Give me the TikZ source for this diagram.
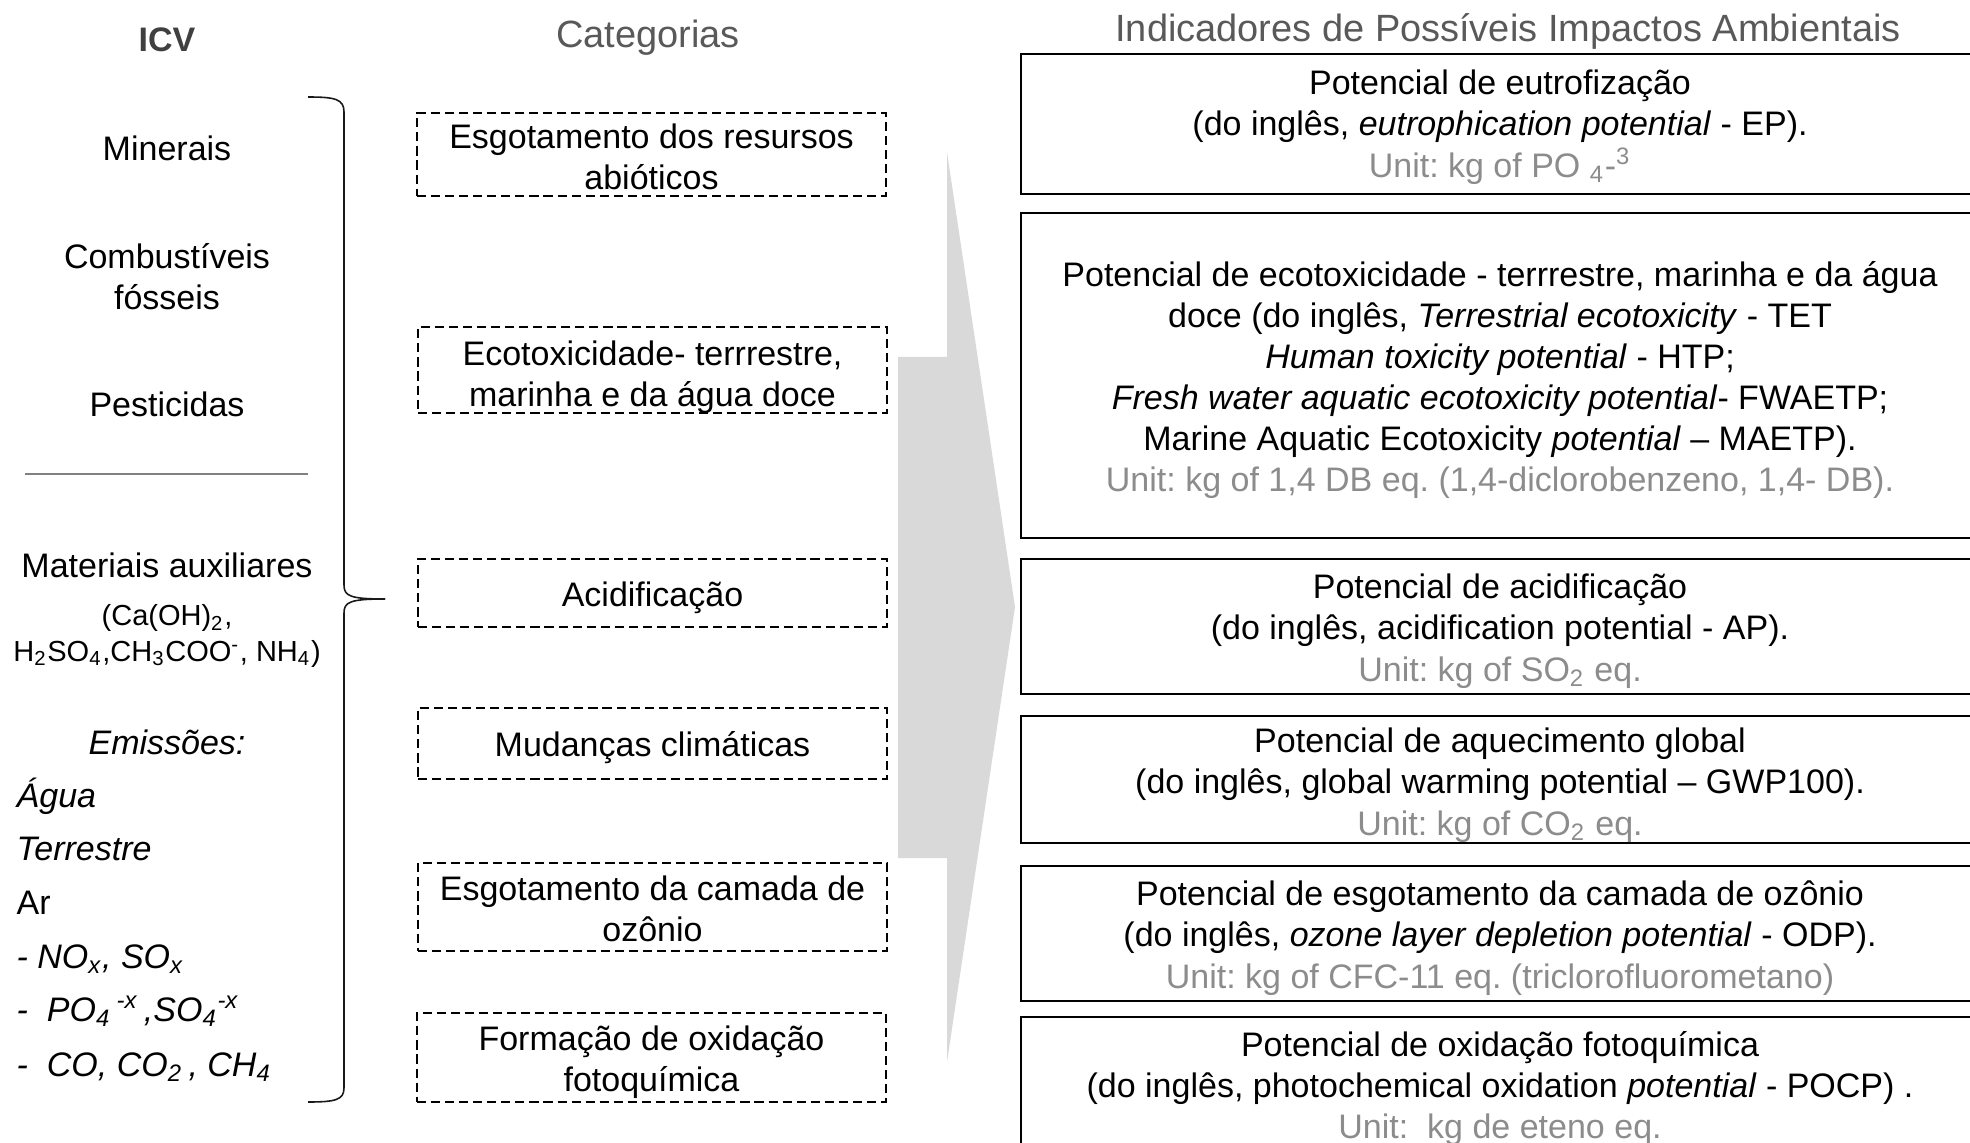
\documentclass[tikz,border=0pt]{standalone}
\usepackage{fontspec}
\setmainfont{Liberation Sans}
\frenchspacing
\definecolor{unitgray}{RGB}{140,140,140}
\definecolor{titlegray}{RGB}{89,89,89}
\definecolor{icvgray}{RGB}{64,64,64}
\definecolor{arrowgray}{RGB}{217,217,217}
\newcommand\unitline[1]{\textcolor{unitgray}{#1}}
\begin{document}
\begin{tikzpicture}[x=0.01cm,y=-0.01cm,
  txt/.style={inner sep=0pt, align=center, font=\fontsize{9.67}{11.7}\selectfont},
  boxtxt/.style={txt, yshift=-1.3pt},
  itxt/.style={inner sep=0pt, font=\fontsize{9.67}{11.7}\selectfont\itshape},
  ttl/.style={inner sep=0pt, font=\fontsize{10.8}{13}\selectfont, text=titlegray},
  catbox/.style={draw, inner sep=0pt, line width=0.55pt, dash pattern=on 2.6pt off 1.4pt, minimum width=4.69cm},
  impbox/.style={draw, inner sep=0pt, line width=0.6pt, minimum width=9.58cm},
  listitem/.style={inner sep=0pt, anchor=base west, font=\fontsize{9.67}{11.7}\selectfont},
  ilistitem/.style={listitem, font=\fontsize{9.67}{11.7}\selectfont\itshape},
  bracepath/.style={line width=0.45pt, black!90}
]
\useasboundingbox (0,0) rectangle (1970,1143);
\clip (0,0) rectangle (1970,1143);

% big grey arrow
\fill[arrowgray] (898,357) -- (947,357) -- (947,152) -- (1015,607) -- (947,1062) -- (947,858) -- (898,858) -- cycle;

% titles
\node[inner sep=0pt, font=\fontsize{9.67}{11.7}\selectfont\bfseries, text=icvgray] (icv) at (167,40) {ICV};
\node[ttl] (cat) at (648,38) {Categorias};
\node[ttl] (ind) at (1508,31) {Indicadores de Possíveis Impactos Ambientais};

% left column
\node[txt] (min) at (167,148) {Minerais};
\node[txt] (comb) at (167,277) {Combustíveis\\fósseis};
\node[txt] (pest) at (167,404) {Pesticidas};
\draw[gray, line width=0.45pt] (25,474) coordinate (sepL) -- (308,474) coordinate (sepR);
\node[txt] (mat) at (167,565) {Materiais auxiliares};
\node[txt, font=\fontsize{8.25}{10}\selectfont] (chem) at (167,636) {(Ca(OH)\textsubscript{2},\\H\textsubscript{2}SO\textsubscript{4},CH\textsubscript{3}COO\textsuperscript{-}, NH\textsubscript{4})};
\node[itxt] (emi) at (167,742) {Emissões:};
\node[ilistitem] (agua) at (16,807) {Água};
\node[ilistitem] (terr) at (16,860) {Terrestre};
\node[listitem] (ar) at (16,914) {Ar};
\node[ilistitem] (nox) at (16,968) {- NO\textsubscript{x}, SO\textsubscript{x}};
\node[ilistitem] (po4) at (16,1021) {-~ PO\textsubscript{4}\,\textsuperscript{-x}\,,SO\textsubscript{4}\textsuperscript{-x}};
\node[ilistitem] (co) at (16,1076) {-~ CO, CO\textsubscript{2}\,, CH\textsubscript{4}};

% brace
\coordinate (brTop) at (308,97);
\coordinate (brTip) at (385,599);
\coordinate (brBot) at (308,1102);
\draw[bracepath] (brTop) .. controls (335,97) and (344,99) .. (344,112) -- (344,585) .. controls (344,596) and (350,599) .. (brTip);
\draw[bracepath] (brTip) .. controls (350,599) and (344,602) .. (344,613) -- (344,1088) .. controls (344,1100) and (335,1102) .. (brBot);

% categories (dashed)
\node[catbox, minimum height=0.83cm] (c1) at (651.5,154.5) {};
\node[boxtxt, yshift=0.7pt] (c1t) at (c1.center) {Esgotamento dos resursos\\abióticos};
\node[catbox, minimum height=0.86cm] (c2) at (652.5,370) {};
\node[boxtxt, yshift=-0.7pt] (c2t) at (c2.center) {Ecotoxicidade- terrrestre,\\marinha e da água doce};
\node[catbox, minimum height=0.68cm] (c3) at (652.5,593) {};
\node[boxtxt] (c3t) at (c3.center) {Acidificação};
\node[catbox, minimum height=0.71cm] (c4) at (652.5,743.5) {};
\node[boxtxt] (c4t) at (c4.center) {Mudanças climáticas};
\node[catbox, minimum height=0.88cm] (c5) at (652.5,907) {};
\node[boxtxt, yshift=0.7pt] (c5t) at (c5.center) {Esgotamento da camada de\\ozônio};
\node[catbox, minimum height=0.89cm] (c6) at (651.5,1057.5) {};
\node[boxtxt] (c6t) at (c6.center) {Formação de oxidação\\fotoquímica};

% impact indicators
\node[impbox, minimum height=1.40cm] (ep) at (1500,124) {};
\node[boxtxt, yshift=0.4pt] (ept) at (ep.center) {Potencial de eutrofização\\(do inglês, \textit{eutrophication potential} - EP).\\\unitline{Unit: kg of PO \textsubscript{4}-\textsuperscript{3}}};
\node[impbox, minimum height=3.25cm] (tox) at (1500,375.5) {};
\node[boxtxt] (toxt) at (tox.center) {Potencial de ecotoxicidade - terrrestre, marinha e da água\\doce (do inglês, \textit{Terrestrial ecotoxicity} - TET\\\textit{Human toxicity potential} - HTP;\\\textit{Fresh water aquatic ecotoxicity potential}- FWAETP;\\Marine Aquatic Ecotoxicity \textit{potential} – MAETP).\\\unitline{Unit: kg of 1,4 DB eq. (1,4-diclorobenzeno, 1,4- DB).}};
\node[impbox, minimum height=1.35cm] (ap) at (1500,626.5) {};
\node[boxtxt] (apt) at (ap.center) {Potencial de acidificação\\(do inglês, acidification potential - AP).\\\unitline{Unit: kg of SO\textsubscript{2} eq.}};
\node[impbox, minimum height=1.27cm] (gwp) at (1500,779.5) {};
\node[boxtxt, yshift=-0.3pt] (gwpt) at (gwp.center) {Potencial de aquecimento global\\(do inglês, global warming potential – GWP100).\\\unitline{Unit: kg of CO\textsubscript{2} eq.}};
\node[impbox, minimum height=1.35cm] (odp) at (1500,933.5) {};
\node[boxtxt] (odpt) at (odp.center) {Potencial de esgotamento da camada de ozônio\\(do inglês, \textit{ozone layer depletion potential} - ODP).\\\unitline{Unit: kg of CFC-11 eq. (triclorofluorometano)}};
\node[impbox, minimum height=1.34cm] (pocp) at (1500,1084) {};
\node[boxtxt] (pocpt) at (pocp.center) {Potencial de oxidação fotoquímica\\(do inglês, photochemical oxidation \textit{potential} - POCP) .\\\unitline{Unit:~ kg de eteno eq.}};
\end{tikzpicture}
\end{document}
